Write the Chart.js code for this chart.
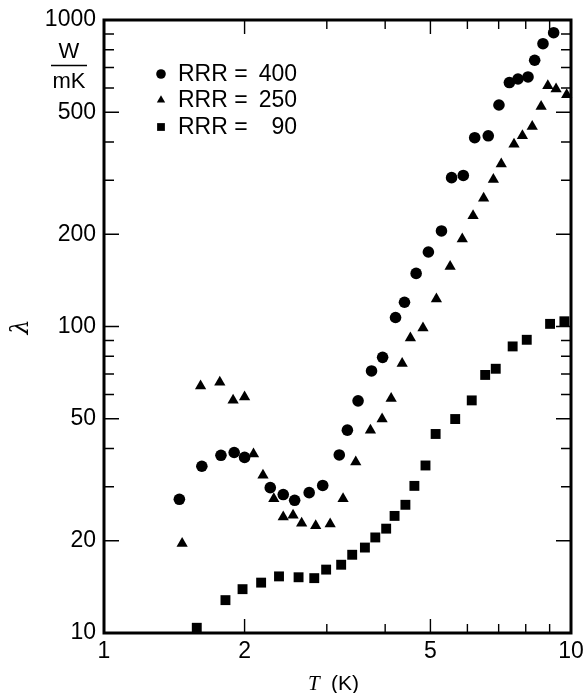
<!DOCTYPE html>
<html>
<head>
<meta charset="utf-8">
<script src="https://cdn.jsdelivr.net/npm/chart.js@4.4.0/dist/chart.umd.min.js"></script>
<style>
  body { margin: 0; background: #fff; }
</style>
</head>
<body>
<canvas id="myChart" width="584" height="693"></canvas>
<script>
const t400 = [1.45, 1.62, 1.78, 1.90, 2.00, 2.27, 2.42, 2.56, 2.75, 2.94, 3.19, 3.32, 3.50, 3.74, 3.95, 4.21, 4.40, 4.66, 4.95, 5.28, 5.55, 5.88, 6.22, 6.65, 7.01, 7.38, 7.70, 8.09, 8.36, 8.71, 9.18];
const lambda400 = [27.3, 35.0, 38.0, 38.8, 37.4, 29.8, 28.3, 27.1, 28.7, 30.3, 38.1, 45.9, 57.2, 71.6, 79.3, 107, 120, 149, 175, 205, 306, 311, 413, 419, 528, 625, 642, 652, 739, 837, 909];

const t250 = [1.47, 1.61, 1.77, 1.89, 2.00, 2.09, 2.19, 2.31, 2.42, 2.54, 2.65, 2.84, 3.05, 3.25, 3.46, 3.72, 3.94, 4.12, 4.35, 4.53, 4.82, 5.15, 5.51, 5.85, 6.17, 6.50, 6.82, 7.09, 7.55, 7.87, 8.26, 8.63, 8.92, 9.29, 9.79];
const lambda250 = [19.6, 63.9, 65.8, 57.5, 58.9, 38.4, 32.7, 27.4, 23.9, 24.2, 22.8, 22.4, 22.7, 27.4, 36.1, 45.9, 49.9, 58.2, 75.7, 91.7, 98.9, 123, 157, 193, 230, 262, 302, 339, 393, 419, 449, 522, 610, 595, 570];

const t90 = [1.58, 1.82, 1.98, 2.17, 2.37, 2.61, 2.82, 2.99, 3.22, 3.40, 3.62, 3.81, 4.02, 4.19, 4.42, 4.62, 4.88, 5.13, 5.65, 6.13, 6.55, 6.90, 7.50, 8.04, 9.02, 9.68];
const lambda90 = [10.4, 12.8, 13.9, 14.6, 15.3, 15.2, 15.1, 16.1, 16.7, 18.0, 19.0, 20.5, 21.9, 24.1, 26.2, 30.2, 35.2, 44.6, 49.9, 57.4, 69.5, 72.8, 86.1, 90.5, 102, 104];

const seriesNames = ['RRR =', 'RRR =', 'RRR ='];
const seriesRRR = ['400', '250', '90'];

// tick labels and tick marks
const xTickLabels = [1, 2, 5, 10];
const yTickLabels = [10, 20, 50, 100, 200, 500, 1000];
const xMajor = [2, 5];
const xMinor = [3, 4, 6, 7, 8, 9];
const yMajor = [20, 50, 100, 200, 500];
const yMinor = [30, 40, 60, 70, 80, 90, 300, 400, 600, 700, 800, 900];

const pairs = (xs, ys) => xs.map((x, i) => ({ x: x, y: ys[i] }));

Chart.defaults.font.family = '"Liberation Sans", Arial, Helvetica, sans-serif';
Chart.defaults.color = '#000';

// ......... frame + inward ticks on all four sides .........
const framePlugin = {
  id: 'frame',
  beforeDraw(chart) {
    const c = chart.ctx;
    c.save();
    c.fillStyle = '#fff';
    c.fillRect(0, 0, chart.width, chart.height);
    c.restore();
  },
  beforeDatasetsDraw(chart) {
    const c = chart.ctx, a = chart.chartArea;
    const xs = chart.scales.x, ys = chart.scales.y;
    c.save();
    c.strokeStyle = '#000';
    c.lineWidth = 1.4;
    c.beginPath();
    const tickX = (v, len) => {
      const px = xs.getPixelForValue(v);
      c.moveTo(px, a.bottom); c.lineTo(px, a.bottom - len);
      c.moveTo(px, a.top); c.lineTo(px, a.top + len);
    };
    const tickY = (v, len) => {
      const py = ys.getPixelForValue(v);
      c.moveTo(a.left, py); c.lineTo(a.left + len, py);
      c.moveTo(a.right, py); c.lineTo(a.right - len, py);
    };
    xMajor.forEach(v => tickX(v, 14));
    xMinor.forEach(v => tickX(v, 9));
    yMajor.forEach(v => tickY(v, 15));
    yMinor.forEach(v => tickY(v, 10));
    c.stroke();
    c.lineWidth = 3;
    c.strokeRect(a.left, a.top, a.right - a.left, a.bottom - a.top);
    c.restore();
  },
  afterDraw(chart) {
    const c = chart.ctx;
    c.save();
    c.fillStyle = '#000';
    c.strokeStyle = '#000';

    // y title: lambda, rotated
    c.save();
    c.translate(22, 327);
    c.rotate(-Math.PI / 2);
    c.font = 'italic 24px "DejaVu Serif", "Liberation Serif", serif';
    c.textAlign = 'center';
    c.textBaseline = 'middle';
    c.fillText('λ', 0, 0);
    c.restore();

    // unit W / mK
    c.font = '22px "Liberation Sans", Arial, sans-serif';
    c.textAlign = 'center';
    c.textBaseline = 'alphabetic';
    c.fillText('W', 69, 58);
    c.fillText('mK', 69, 88);
    c.lineWidth = 1.5;
    c.beginPath();
    c.moveTo(51, 65.5); c.lineTo(87, 65.5);
    c.stroke();

    // x title: T (K)
    c.textAlign = 'left';
    c.font = 'italic 21px "Liberation Serif", "DejaVu Serif", serif';
    c.fillText('T', 308, 690);
    c.font = '21px "Liberation Sans", Arial, sans-serif';
    c.fillText('(K)', 331, 690);

    // legend
    const rows = [74, 100, 127];
    chart.data.datasets.forEach((ds, i) => {
      Chart.helpers.drawPoint(c, {
        pointStyle: ds.pointStyle, radius: ds.pointStyle === 'rect' ? 5.5 : 4.8,
        rotation: 0, borderWidth: 0
      }, 161, rows[i]);
      c.font = '23px "Liberation Sans", Arial, sans-serif';
      c.textBaseline = 'middle';
      c.textAlign = 'left';
      c.fillText(seriesNames[i], 178, rows[i] + 1);
      c.textAlign = 'right';
      c.fillText(seriesRRR[i], 297, rows[i] + 1);
    });
    c.restore();
  }
};

const ctx = document.getElementById('myChart').getContext('2d');
const chart = new Chart(ctx, {
  type: 'scatter',
  data: {
    datasets: [
      { label: 'RRR = 400', data: pairs(t400, lambda400), pointStyle: 'circle', pointRadius: 5.8,
        backgroundColor: '#000', borderWidth: 0, clip: false },
      { label: 'RRR = 250', data: pairs(t250, lambda250), pointStyle: 'triangle', pointRadius: 6.5,
        backgroundColor: '#000', borderWidth: 0, clip: false },
      { label: 'RRR = 90', data: pairs(t90, lambda90), pointStyle: 'rect', pointRadius: 7,
        backgroundColor: '#000', borderWidth: 0, clip: false }
    ]
  },
  options: {
    responsive: false,
    animation: false,
    events: [],
    layout: { padding: { top: 20, right: 13, bottom: 0, left: 0 } },
    plugins: { legend: { display: false }, tooltip: { enabled: false } },
    scales: {
      x: {
        type: 'logarithmic',
        min: 1, max: 10,
        afterBuildTicks: s => { s.ticks = xTickLabels.map(v => ({ value: v })); },
        afterFit: s => { s.height = 60; s.paddingLeft = 0; s.paddingRight = 0; },
        ticks: { font: { size: 23 }, color: '#000', padding: 5, maxRotation: 0, autoSkip: false,
                 callback: v => String(v) },
        grid: { display: false, drawTicks: false, tickLength: 0 },
        border: { display: false }
      },
      y: {
        type: 'logarithmic',
        min: 10, max: 1000,
        afterBuildTicks: s => { s.ticks = yTickLabels.map(v => ({ value: v })); },
        afterFit: s => { s.width = 104; s.paddingTop = 0; s.paddingBottom = 0; },
        ticks: { font: { size: 23 }, color: '#000', padding: 8, autoSkip: false,
                 callback: v => String(v) },
        grid: { display: false, drawTicks: false, tickLength: 0 },
        border: { display: false }
      }
    }
  },
  plugins: [framePlugin]
});
</script>
</body>
</html>
